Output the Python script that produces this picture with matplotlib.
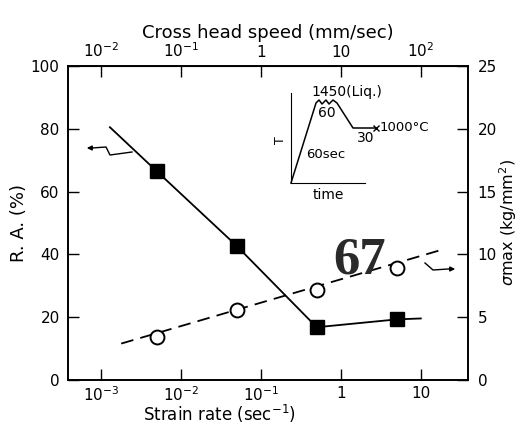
import numpy as np
import matplotlib
matplotlib.use("Agg")
import matplotlib.pyplot as plt

# R.A. (%) vs strain rate -- filled squares, solid line
rate_sq = [5e-3, 5e-2, 5e-1, 5.0]
ra_sq = [66.5, 42.7, 16.8, 19.3]
ra_line_x = [1.3e-3, 5e-3, 5e-2, 5e-1, 5.0, 10.0]
ra_line_y = [80.5, 66.5, 42.7, 16.8, 19.3, 19.6]

# sigma max (kg/mm2) vs strain rate -- open circles, dashed line
rate_ci = [5e-3, 5e-2, 5e-1, 5.0]
sig_ci = [3.4, 5.6, 7.2, 8.9]
sig_line_x = [1.8e-3, 19.0]
sig_line_y = [2.9, 10.4]

bottom_ticks = [1e-3, 1e-2, 1e-1, 1, 10]
bottom_labels = ["$10^{-3}$", "$10^{-2}$", "$10^{-1}$", "1", "10"]
top_ticks = [1e-2, 1e-1, 1, 10, 100]
top_labels = ["$10^{-2}$", "$10^{-1}$", "1", "10", "$10^{2}$"]

# inset: schematic thermal cycle (time, T)
cyc_t = [0, 25, 28, 31, 35, 38, 42, 46, 62, 84]
cyc_T = [0, 80, 83, 79, 83, 79, 83, 80, 55, 55]

W, H = 522, 426
fig = plt.figure(figsize=(W / 100, H / 100), dpi=100)
plt.rcParams["font.family"] = "DejaVu Sans"

def px(x0, y0, x1, y1):
    return [x0 / W, 1 - y1 / H, (x1 - x0) / W, (y1 - y0) / H]

ax = fig.add_axes(px(68, 66, 468, 380))
ax.set_xscale("log")
ax.set_xlim(10 ** -3.41, 10 ** 1.59)
ax.set_ylim(0, 100)

ax.plot(ra_line_x, ra_line_y, color="black", lw=1.3)
ax.plot(rate_sq, ra_sq, "s", color="black", ms=10.5)

ax2 = ax.twinx()
ax2.set_ylim(0, 25)
ax2.plot(sig_line_x, sig_line_y, color="black", lw=1.3, dashes=(7, 4))
ax2.plot(rate_ci, sig_ci, "o", mfc="white", mec="black", mew=1.4, ms=10)

ax.set_xticks(bottom_ticks)
ax.set_xticklabels(bottom_labels)
ax.minorticks_off()
ax.set_yticks([0, 20, 40, 60, 80, 100])
ax2.set_yticks([0, 5, 10, 15, 20, 25])
ax.tick_params(direction="in", length=8, width=1, labelsize=11, pad=6)
ax2.tick_params(direction="in", length=8, width=1, labelsize=11, pad=7)
ax.tick_params(axis="x", pad=4)

top = ax.secondary_xaxis("top", functions=(lambda x: x * 10, lambda x: x / 10))
top.set_xticks(top_ticks)
top.set_xticklabels(top_labels)
top.minorticks_off()
top.tick_params(direction="in", length=8, width=1, labelsize=11, pad=4)
top.set_xlabel("Cross head speed (mm/sec)", fontsize=13, labelpad=3)

ax.set_ylabel("R. A. (%)", fontsize=13, labelpad=2)
ax2.set_ylabel(r"$\sigma$max (kg/mm$^2$)", fontsize=11.5, labelpad=0)
ax.set_xlabel("Strain rate (sec$^{-1}$)", fontsize=12)
ax.xaxis.set_label_coords(0.38, -0.072)
ax2.yaxis.set_label_coords(1.074, 0.5)

for a in (ax, ax2):
    for s in a.spines.values():
        s.set_linewidth(1.2)

# inset thermal cycle
ins = fig.add_axes(px(291, 93, 365, 183))
ins.set_xlim(0, 74)
ins.set_ylim(0, 90)
ins.plot(cyc_t, cyc_T, color="black", lw=1.1, clip_on=False)
ins.plot([cyc_t[-1] + 1], [cyc_T[-1]], "x", color="black", ms=4, mew=1, clip_on=False)
ins.set_xticks([])
ins.set_yticks([])
ins.spines[["top", "right"]].set_visible(False)
ins.patch.set_alpha(0)
ins.text(-10, 43, "T", fontsize=9, rotation=90, ha="center", va="center")
ins.text(37, -5, "time", fontsize=10, ha="center", va="top")
ins.text(20, 91, "1450(Liq.)", fontsize=10, va="center")
ins.text(27, 70, "60", fontsize=10, va="center")
ins.text(66, 45, "30", fontsize=10, va="center")
ins.text(89, 55, "1000°C", fontsize=9.5, va="center")
ins.text(15, 28, "60sec", fontsize=9.5, va="center")

# overlay for hand-drawn arrows and the page stamp
ov = fig.add_axes([0, 0, 1, 1])
ov.set_xlim(0, W)
ov.set_ylim(H, 0)
ov.axis("off")
ov.patch.set_alpha(0)
ov.plot([132, 110, 106, 92], [152, 155, 147, 148], color="black", lw=1)
ov.annotate("", xy=(84, 148), xytext=(93, 148),
            arrowprops=dict(arrowstyle="-|>", color="black", lw=1, mutation_scale=7))
ov.plot([425, 433, 448], [263, 270, 269], color="black", lw=1)
ov.annotate("", xy=(458, 269), xytext=(446, 269),
            arrowprops=dict(arrowstyle="-|>", color="black", lw=1, mutation_scale=7))
ov.text(360, 261, "67", family="Liberation Serif", fontsize=38, weight="bold",
        color="#2a2a2a", ha="center", va="center")

fig.savefig("out.png", dpi=100)
